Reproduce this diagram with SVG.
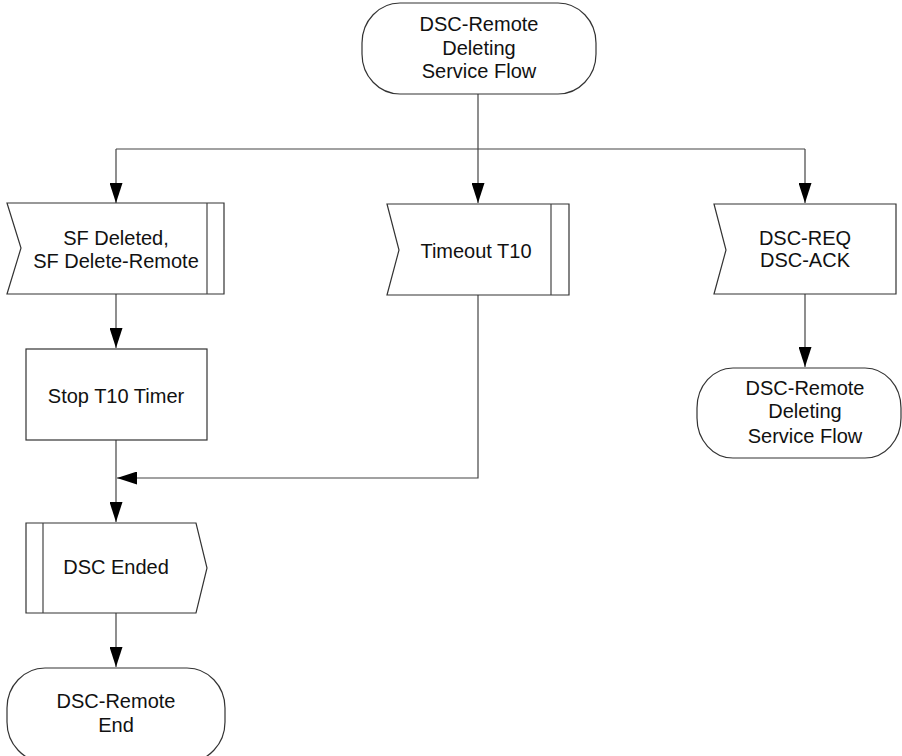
<svg xmlns="http://www.w3.org/2000/svg" width="902" height="756" viewBox="0 0 902 756">
<defs>
<style>
.s{fill:#fff;stroke:#333;stroke-width:1.2}
.l{fill:none;stroke:#444;stroke-width:1.2}
text{font-family:"Liberation Sans",Arial,sans-serif;font-size:20px;fill:#111;text-anchor:middle}
</style>
<marker id="a" markerWidth="20" markerHeight="13" refX="20" refY="6.5" viewBox="0 0 20 13" orient="auto" markerUnits="userSpaceOnUse">
<path d="M0,0 L20,6.5 L0,13 Z" fill="#000"/>
</marker>
</defs>
<rect width="902" height="756" fill="#fff"/>
<g id="connectors">
<path class="l" d="M478,94 V149"/>
<path class="l" d="M116,149 H805"/>
<path class="l" d="M116,149 V203" marker-end="url(#a)"/>
<path class="l" d="M478,149 V203" marker-end="url(#a)"/>
<path class="l" d="M805,149 V203" marker-end="url(#a)"/>
<path class="l" d="M116,294 V348" marker-end="url(#a)"/>
<path class="l" d="M805,294 V367" marker-end="url(#a)"/>
<path class="l" d="M478,295 V478 H117" marker-end="url(#a)"/>
<path class="l" d="M116,440 V522" marker-end="url(#a)"/>
<path class="l" d="M116,613 V667" marker-end="url(#a)"/>
</g>
<g id="start">
<rect class="s" x="362" y="3" width="234" height="91" rx="38" ry="40"/>
<text x="479" y="31">DSC-Remote</text>
<text x="479" y="55">Deleting</text>
<text x="479" y="78">Service Flow</text>
</g>
<g id="sf-deleted">
<path class="s" d="M7,203 H224 V294 H7 L21,248 Z"/>
<path class="l" d="M207,203 V294"/>
<text x="116" y="245">SF Deleted,</text>
<text x="116" y="268">SF Delete-Remote</text>
</g>
<g id="timeout">
<path class="s" d="M387,204 H569 V295 H387 L399,250 Z"/>
<path class="l" d="M551,204 V295"/>
<text x="476" y="258">Timeout T10</text>
</g>
<g id="dsc-req">
<path class="s" d="M714,204 H896 V294 H714 L726,250 Z"/>
<text x="805" y="245">DSC-REQ</text>
<text x="805" y="267">DSC-ACK</text>
</g>
<g id="stop-timer">
<rect class="s" x="26" y="349" width="181" height="91"/>
<text x="116" y="403">Stop T10 Timer</text>
</g>
<g id="remote-deleting">
<rect class="s" x="697" y="368" width="204" height="90" rx="36" ry="40"/>
<text x="805" y="395">DSC-Remote</text>
<text x="805" y="418">Deleting</text>
<text x="805" y="443">Service Flow</text>
</g>
<g id="dsc-ended">
<path class="s" d="M26,523 H196 L207,568 L196,613 H26 Z"/>
<path class="l" d="M43,523 V613"/>
<text x="116" y="574">DSC Ended</text>
</g>
<g id="remote-end">
<rect class="s" x="7" y="668" width="218" height="94" rx="38" ry="40"/>
<text x="116" y="708">DSC-Remote</text>
<text x="116" y="732">End</text>
</g>
</svg>
